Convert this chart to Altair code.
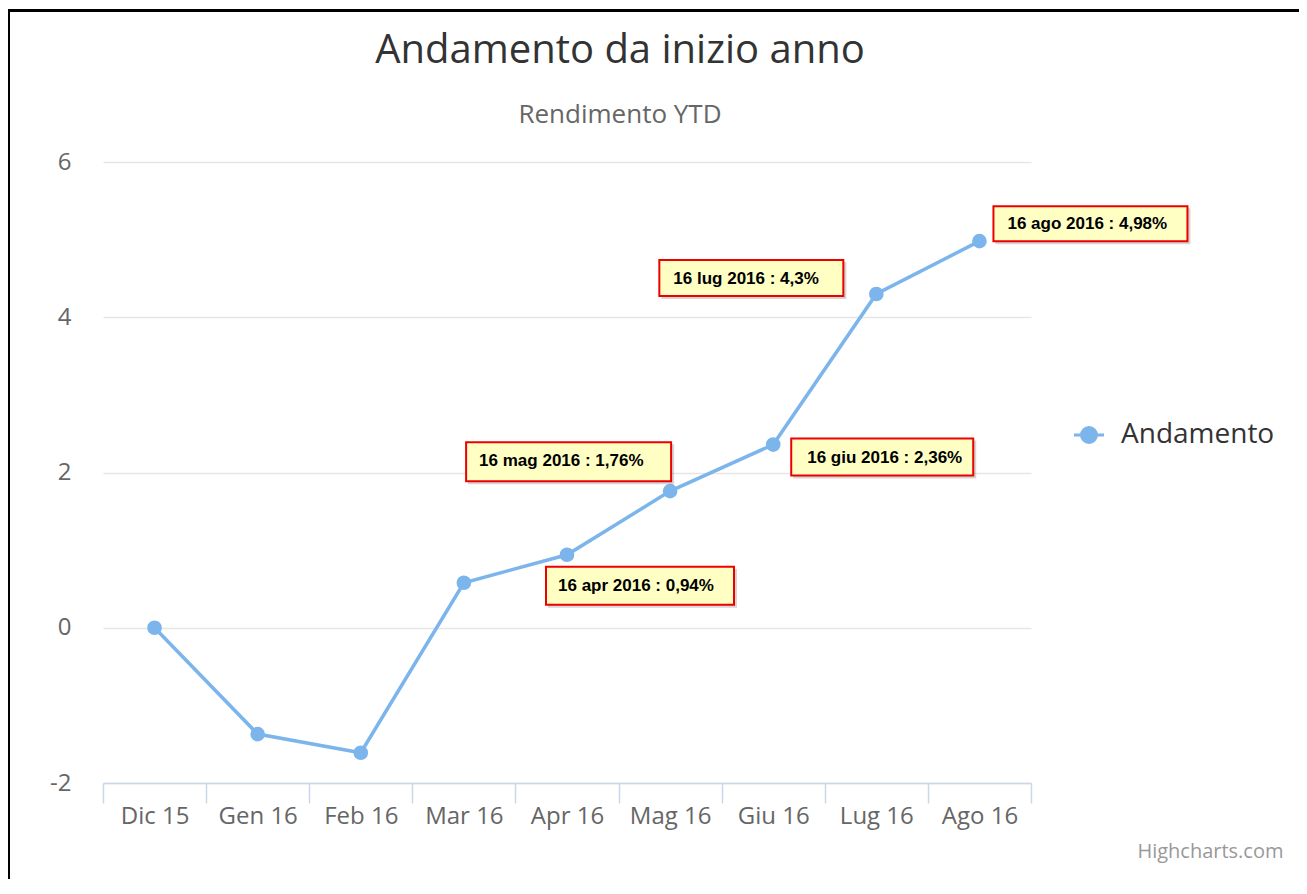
import altair as alt
import pandas as pd

# ---- data ----
categories = ["Dic 15", "Gen 16", "Feb 16", "Mar 16", "Apr 16", "Mag 16", "Giu 16", "Lug 16", "Ago 16"]
values = [0.0, -1.37, -1.61, 0.58, 0.94, 1.76, 2.36, 4.3, 4.98]
series_name = "Andamento"
ann_idx = [4, 5, 6, 7, 8]
ann_text = ["16 apr 2016 : 0,94%", "16 mag 2016 : 1,76%", "16 giu 2016 : 2,36%",
            "16 lug 2016 : 4,3%", "16 ago 2016 : 4,98%"]
y_ticks = [-2, 0, 2, 4, 6]

df = pd.DataFrame({"idx": list(range(len(categories))), "cat": categories,
                   "value": values, "series": series_name})
ann = pd.DataFrame({"idx": ann_idx, "value": [values[i] for i in ann_idx], "text": ann_text})

# ---- style ----
FONT = "Open Sans"
LINE_COLOR = "#7cb5ec"
W, H = 928, 621
PAD = {"left": 95, "top": 154, "right": 268, "bottom": 96}

xscale = alt.Scale(domain=[-0.5, len(categories) - 0.5], nice=False, zero=False)
yscale = alt.Scale(domain=[-2, 6], nice=False, zero=False)

label_expr = "[" + ",".join("'%s'" % c for c in categories) + "][datum.value]"
boundaries = [i - 0.5 for i in range(len(categories) + 1)]

tick_axis = alt.Axis(orient="bottom", values=boundaries, labels=False, ticks=True, tickSize=20,
                     tickColor="#ccd6eb", tickWidth=1.5, domain=True, domainColor="#ccd6eb",
                     domainWidth=1.5, grid=False, title="Highcharts.com", titleX=1180, titleY=68,
                     titleAlign="right", titleBaseline="middle", titleFont=FONT, titleFontSize=20,
                     titleFontWeight="normal", titleColor="#999999", titleAngle=0)
label_axis = alt.Axis(orient="bottom", values=list(range(len(categories))), labelExpr=label_expr,
                      ticks=False, domain=False, grid=False, title=None, labelFont=FONT,
                      labelFontSize=24, labelColor="#666666", labelPadding=21,
                      labelFlush=False, labelOverlap=False)
y_axis = alt.Axis(orient="left", values=y_ticks, labelExpr="'' + datum.value", domain=False,
                  ticks=False, grid=True, gridColor="#e6e6e6", gridWidth=1.5, labelPadding=32,
                  labelFont=FONT, labelFontSize=24, labelColor="#666666", title=None)

base = alt.Chart(df)

line = base.mark_line(color=LINE_COLOR, strokeWidth=3.5).encode(
    x=alt.X("idx:Q", scale=xscale, axis=tick_axis),
    y=alt.Y("value:Q", scale=yscale, axis=y_axis),
)

legend_path = "M-2,0L2,0M1,0A1,1,0,1,1,-1,0A1,1,0,1,1,1,0Z"
legend = alt.Legend(title=None, orient="none", legendX=972, legendY=259, symbolType=legend_path,
                    symbolSize=225, symbolStrokeWidth=3, labelFont=FONT, labelFontSize=28,
                    labelColor="#333333", labelOffset=18, padding=0)
col_scale = alt.Scale(domain=[series_name], range=[LINE_COLOR])

points = base.mark_point(filled=True, size=160, strokeWidth=2, opacity=1).encode(
    x=alt.X("idx:Q", scale=xscale, axis=label_axis),
    y=alt.Y("value:Q", scale=yscale, axis=None),
    fill=alt.Fill("series:N", scale=col_scale, legend=legend),
    stroke=alt.Stroke("series:N", scale=col_scale, legend=legend),
)

# annotation box offsets (pixels relative to the point): x0, x1, y0, y1, text dx, text dy
box_style = {
    4: (-21, 167, 12, 50, -9, 31),
    5: (-204, 1, -49, -10, -191, -30),
    6: (18, 200, -6, 31, 34, 13),
    7: (-217, -33, -34, 2, -203, -15),
    8: (14, 208, -35, 0, 28, -17),
}

ann_layers = []
abase = alt.Chart(ann)
for i in ann_idx:
    x0, x1, y0, y1, tdx, tdy = box_style[i]
    enc = dict(x=alt.X("idx:Q", scale=xscale, axis=None), x2=alt.X2("idx"),
               y=alt.Y("value:Q", scale=yscale, axis=None), y2=alt.Y2("value"))
    sel = abase.transform_filter(alt.datum.idx == i)
    shadow = sel.mark_rect(fill="#888888", opacity=0.35, xOffset=x0 + 2, x2Offset=x1 + 3,
                           yOffset=y0 + 2, y2Offset=y1 + 3).encode(**enc)
    box = sel.mark_rect(fill="#ffffc4", stroke="#ee0000", strokeWidth=2, xOffset=x0, x2Offset=x1,
                        yOffset=y0, y2Offset=y1).encode(**enc)
    txt = sel.mark_text(align="left", baseline="middle", dx=tdx, dy=tdy, font="Liberation Sans",
                        fontSize=17, fontWeight="bold", color="#000000").encode(
        x=alt.X("idx:Q", scale=xscale, axis=None),
        y=alt.Y("value:Q", scale=yscale, axis=None),
        text="text:N")
    ann_layers += [shadow, box, txt]

frame_df = pd.DataFrame({"k": [0]})
border_left = alt.Chart(frame_df).mark_rule(color="#000000", strokeWidth=3).encode(
    x=alt.value(-94.5), y=alt.value(-153), y2=alt.value(780))
border_top = alt.Chart(frame_df).mark_rule(color="#000000", strokeWidth=3).encode(
    x=alt.value(-95), x2=alt.value(1230), y=alt.value(-151.5))

chart = alt.layer(line, points, *ann_layers, border_left, border_top).resolve_axis(
    x="independent", y="independent"
).properties(
    width=W, height=H,
    autosize=alt.AutoSizeParams(type="none"),
    padding=PAD,
    background="#ffffff",
    title=alt.TitleParams(text="Andamento da inizio anno", subtitle="Rendimento YTD",
                          anchor="middle", dx=53, font=FONT, fontSize=40, fontWeight="normal",
                          color="#333333", subtitleFont=FONT, subtitleFontSize=26,
                          subtitleColor="#666666", subtitlePadding=31, offset=-120),
).configure_view(strokeWidth=0, stroke="transparent")

chart.save("out.html", embed_options={"renderer": "svg", "actions": False})
